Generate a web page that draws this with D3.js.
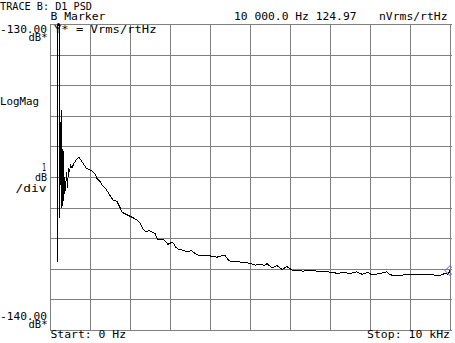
<!DOCTYPE html>
<html>
<head>
<meta charset="utf-8">
<script src="https://cdn.jsdelivr.net/npm/d3@7"></script>
<style>
  html, body { margin: 0; padding: 0; background: #fff; }
  svg { display: block; }
  text { font-family: "DejaVu Sans Mono", monospace; font-size: 10px; fill: #000; }
</style>
</head>
<body>
<svg id="chart"></svg>
<script>
// trace: frequency (Hz) and level (dB)
const freqHz = [0, 50, 100, 180, 187.5, 195, 232, 237.5, 280, 300, 325, 345, 362.5, 387.5, 412.5, 437.5, 462.5, 487.5, 512.5,
  550, 600, 650, 725, 775, 825, 900, 975, 1050, 1125, 1175, 1250, 1325, 1400, 1500, 1575, 1675, 1750,
  1800, 1875, 1950, 2025, 2100, 2175, 2250, 2325, 2400, 2475, 2550, 2625, 2700, 2775, 2850, 2950,
  3025, 3075, 3150, 3200, 3325, 3450, 3525, 3625, 3700, 3825, 3950, 4050, 4175, 4275, 4375, 4450,
  4500, 4600, 4675, 4800, 4900, 5000, 5125, 5250, 5325, 5375, 5425, 5550, 5675, 5800, 5925, 6050,
  6175, 6325, 6500, 6675, 6875, 7050, 7200, 7325, 7500, 7675, 7800, 7950, 8050, 8250, 8425, 8500,
  8750, 8950, 9175, 9425, 9575, 9750, 9875, 9950, 10000];
const levelDb = [-118, -121, -124, -126, -137.78, -126, -127, -136.34, -132.8, -136.0, -134.1,
  -135.8, -135.0, -135.45, -134.85, -135.35, -134.7, -134.85, -134.6,
  -134.7, -134.55, -134.45, -134.35, -134.45, -134.55,
  -134.7, -134.75, -134.8, -134.9, -135.05, -135.15, -135.3, -135.4, -135.6, -135.75, -135.8, -136.0,
  -136.15, -136.2, -136.25, -136.3, -136.35, -136.4, -136.5, -136.7, -136.8, -136.75, -136.8, -136.85,
  -137.05, -137.05, -137.05, -137.2, -137.15, -137.15, -137.3, -137.35, -137.4, -137.45, -137.4, -137.5,
  -137.55, -137.55, -137.55, -137.6, -137.62, -137.58, -137.57, -137.7, -137.75, -137.75, -137.75, -137.8,
  -137.8, -137.82, -137.88, -137.85, -137.88, -137.88, -137.83, -137.97, -137.9, -138.02, -137.93, -138.04,
  -138.04, -138.08, -138.04, -138.08, -138.08, -138.12, -138.15, -138.12, -138.15, -138.1, -138.18, -138.12,
  -138.2, -138.15, -138.1, -138.2, -138.22, -138.18, -138.18, -138.2, -138.2, -138.22, -138.15, -138.18, -138.06];

const yTop = -130, yBottom = -140;
const xStart = 0, xStop = 10000;
const markerHz = 10000, markerDb = -138.06;

const width = 455, height = 343;
const plotLeft = 50, plotRight = 450, plotTop = 24, plotBottom = 330;

const svg = d3.select("#chart").attr("width", width).attr("height", height);

const x = d3.scaleLinear().domain([xStart, xStop]).range([plotLeft, plotRight]);
const y = d3.scaleLinear().domain([yBottom, yTop]).range([plotBottom, plotTop]);

function crisp(v) { return Math.round(v) + 0.5; }

svg.append("defs").append("clipPath").attr("id", "plot")
    .append("rect").attr("x", plotLeft).attr("y", plotTop)
    .attr("width", plotRight - plotLeft + 2).attr("height", plotBottom - plotTop + 1);

// grid, 10 x 10 divisions
const grid = svg.append("g").attr("stroke", "#808080").attr("stroke-width", 1).attr("shape-rendering", "crispEdges");
grid.selectAll("line.v").data(d3.range(11)).enter().append("line")
    .attr("class", "v")
    .attr("x1", function (d) { return crisp(x(xStart + d * (xStop - xStart) / 10)); })
    .attr("x2", function (d) { return crisp(x(xStart + d * (xStop - xStart) / 10)); })
    .attr("y1", plotTop).attr("y2", plotBottom + 1);
grid.selectAll("line.h").data(d3.range(11)).enter().append("line")
    .attr("class", "h")
    .attr("y1", function (d) { return crisp(y(yBottom + d)); })
    .attr("y2", function (d) { return crisp(y(yBottom + d)); })
    .attr("x1", plotLeft).attr("x2", plotRight + 2);

// trace
const line = d3.line()
    .x(function (d, i) { return x(freqHz[i]); })
    .y(function (d) { return y(d); });

const plot = svg.append("g").attr("clip-path", "url(#plot)");
plot.append("path")
    .attr("d", line(levelDb))
    .attr("fill", "none")
    .attr("stroke", "#000")
    .attr("stroke-width", 1)
    .attr("shape-rendering", "crispEdges");

// marker at stop frequency
const mx = x(markerHz), my = y(markerDb);
plot.append("path")
    .attr("d", "M" + (mx - 5) + "," + my + " L" + mx + "," + (my - 5) + " L" + (mx + 5) + "," + my + " L" + mx + "," + (my + 5) + " Z")
    .attr("fill", "none")
    .attr("stroke", "#4a5cff")
    .attr("stroke-width", 1);

// small marker at top left
svg.append("circle").attr("cx", 58.5).attr("cy", 24.5).attr("r", 1.5).attr("fill", "#000");

// labels
const labels = [
  { t: "TRACE B: D1 PSD", x: 0, y: 10, w: 92 },
  { t: "B Marker", x: 50.5, y: 19.5, w: 55 },
  { t: "10 000.0 Hz 124.97", x: 234, y: 19.5, w: 122.5 },
  { t: "nVrms/rtHz", x: 379, y: 19.5, w: 68.5 },
  { t: "-130.00", x: 0, y: 32.5, w: 47 },
  { t: "dB*", x: 28.5, y: 41, w: 19 },
  { t: "Y* = Vrms/rtHz", x: 54, y: 33, w: 102.5 },
  { t: "LogMag", x: 0, y: 104.5, w: 39 },
  { t: "1", x: 42, y: 170.5, w: 4 },
  { t: "dB", x: 35, y: 180.5, w: 12 },
  { t: "/div", x: 15.5, y: 191.5, w: 31 },
  { t: "-140.00", x: 0, y: 319.5, w: 47 },
  { t: "dB*", x: 28.5, y: 328, w: 19 },
  { t: "Start: 0 Hz", x: 50.5, y: 337.5, w: 75.5 },
  { t: "Stop: 10 kHz", x: 367, y: 337.5, w: 83 }
];
svg.append("g").selectAll("text").data(labels).enter().append("text")
    .attr("x", function (d) { return d.x; })
    .attr("y", function (d) { return d.y; })
    .attr("textLength", function (d) { return d.w; })
    .attr("lengthAdjust", "spacingAndGlyphs")
    .text(function (d) { return d.t; });
</script>
</body>
</html>
